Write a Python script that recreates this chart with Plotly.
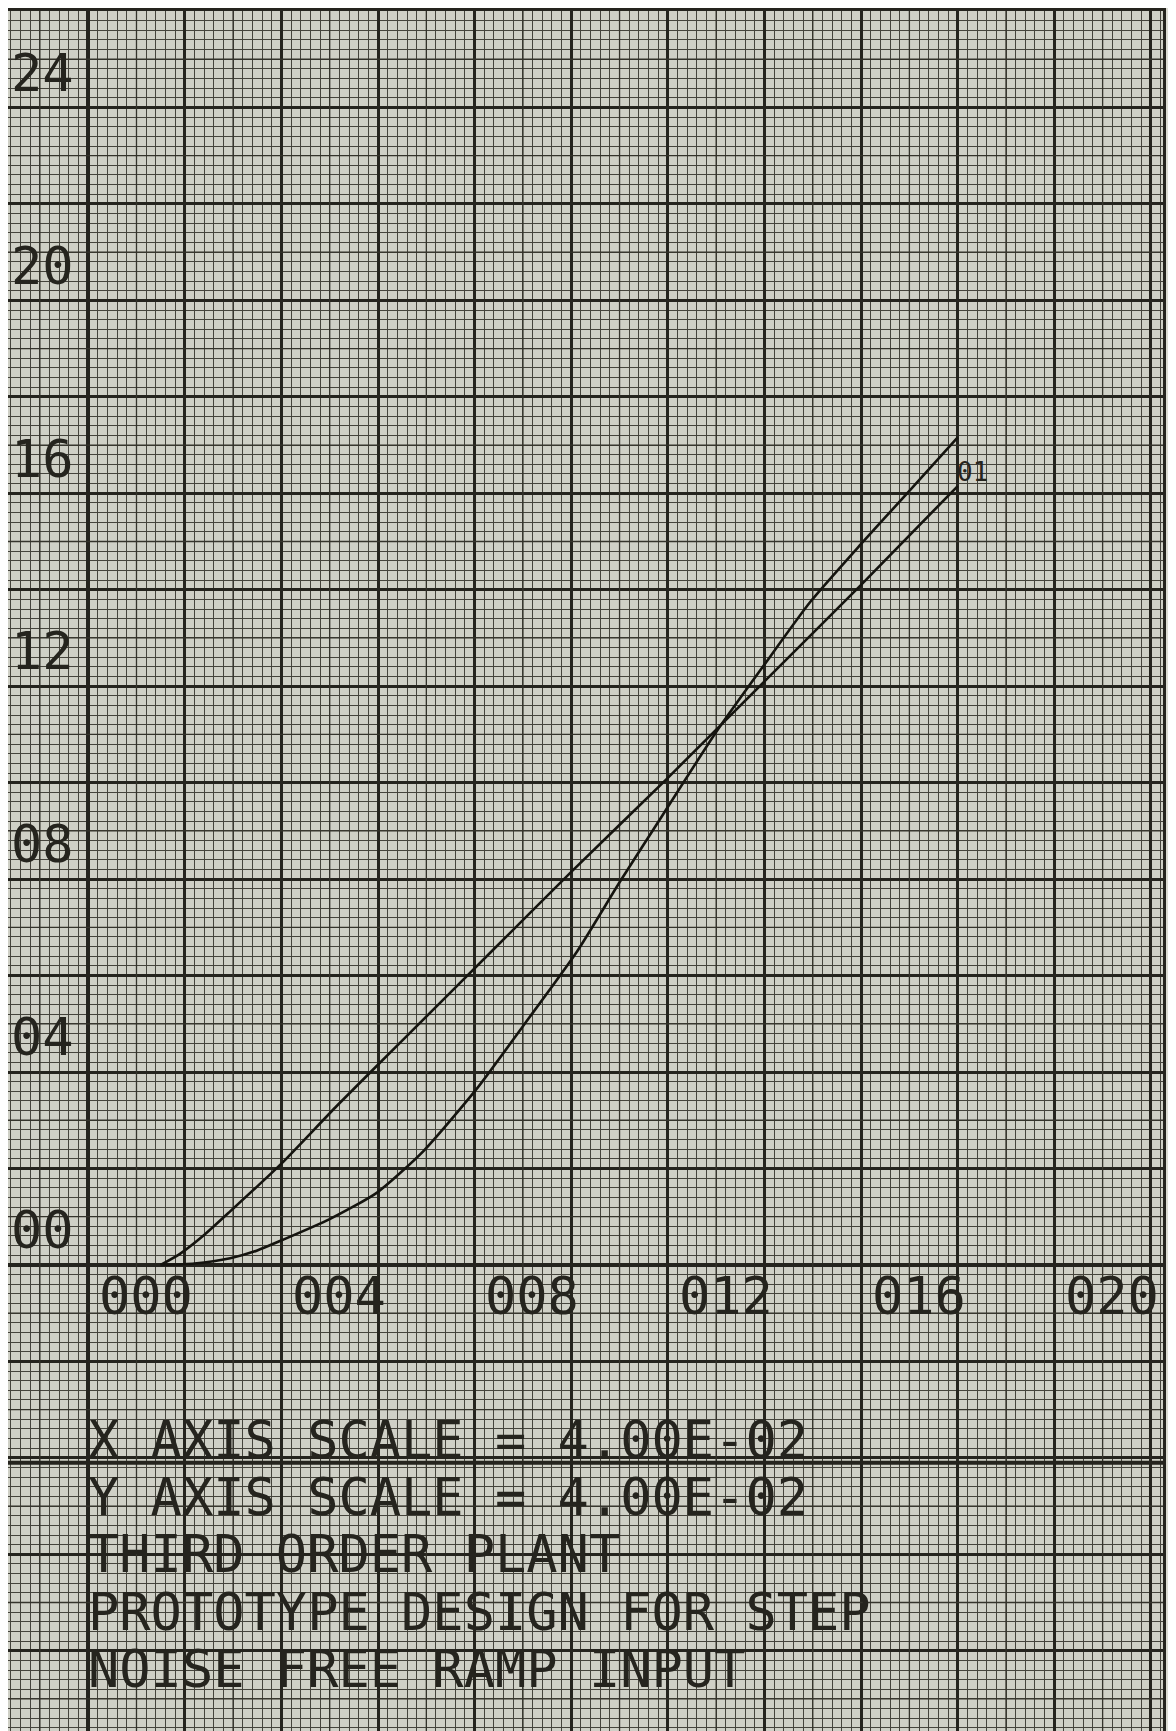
import numpy as np
import plotly.graph_objects as go

# ramp input (nearly straight line) and plant response (lagging curve)
ramp_x = [1.5, 1.9, 2.4, 2.95, 4.0, 5.15, 6.5, 8.4, 10.0, 12.0, 14.0, 16.0, 18.0]
ramp_y = [0.0, 0.23, 0.62, 1.12, 2.1, 3.3, 4.65, 6.55, 8.15, 10.1, 12.1, 14.1, 16.15]

resp_x = [1.5, 2.2, 2.94, 3.5, 3.98, 5.0, 5.98, 6.94, 8.05, 9.0, 10.12, 11.01,
          11.9, 13.0, 14.0, 14.95, 16.0, 17.0, 18.0]
resp_y = [0.0, 0.03, 0.14, 0.3, 0.5, 0.95, 1.5, 2.36, 3.66, 4.95, 6.5, 7.95,
          9.34, 11.05, 12.45, 13.75, 14.95, 16.05, 17.16]

curve_label = "01"

x_tick_vals = [0, 4, 8, 12, 16, 20]
x_tick_text = ["000", "004", "008", "012", "016", "020"]
y_tick_vals = [0, 4, 8, 12, 16, 20, 24]
y_tick_text = ["00", "04", "08", "12", "16", "20", "24"]

notes = [
    "X AXIS SCALE = 4.00E-02",
    "Y AXIS SCALE = 4.00E-02",
    "THIRD ORDER PLANT",
    "PROTOTYPE DESIGN FOR STEP",
    "NOISE FREE RAMP INPUT",
]

# page has an 8px body margin, ranges chosen so the sheet lines up with the scan
X_RANGE = [-1.66, 22.25]
Y_RANGE = [-9.83, 26.0]
INK = "#25241e"
PAPER = "#cfd0c6"
FONT = "DejaVu Sans Mono"

fig = go.Figure()

# medium-weight paper lines at odd units
gx, gy = [], []
for v in np.arange(-1, X_RANGE[1], 2):
    gx += [v, v, None]
    gy += [Y_RANGE[0], Y_RANGE[1], None]
for v in np.arange(-9, Y_RANGE[1], 2):
    gx += [X_RANGE[0], X_RANGE[1], None]
    gy += [v, v, None]
fig.add_trace(go.Scatter(x=gx, y=gy, mode="lines", line=dict(color="#34332b", width=1.3),
                         hoverinfo="skip", showlegend=False))

fig.add_trace(go.Scatter(x=ramp_x, y=ramp_y, mode="lines",
                         line=dict(color="#15140f", width=2.6, shape="spline", smoothing=0.6),
                         showlegend=False))
fig.add_trace(go.Scatter(x=resp_x, y=resp_y, mode="lines",
                         line=dict(color="#15140f", width=2.6, shape="spline", smoothing=0.6),
                         showlegend=False))

annotations = []
for v, t in zip(x_tick_vals, x_tick_text):
    annotations.append(dict(x=v + 0.18, y=-0.64, text=t, showarrow=False, xanchor="left", yanchor="middle",
                            font=dict(family=FONT, size=52, color=INK)))
for v, t in zip(y_tick_vals, y_tick_text):
    annotations.append(dict(x=X_RANGE[0] + 0.02, y=v + 0.72, text=t, showarrow=False, xanchor="left",
                            yanchor="middle", font=dict(family=FONT, size=52, color=INK)))
for i, t in enumerate(notes):
    annotations.append(dict(x=-0.05, y=-3.62 - 1.19 * i, text=t, showarrow=False, xanchor="left",
                            yanchor="middle", font=dict(family=FONT, size=52, color=INK)))
annotations.append(dict(x=ramp_x[-1] - 0.05, y=ramp_y[-1] + 0.3, text=curve_label, showarrow=False,
                        xanchor="left", yanchor="middle", font=dict(family=FONT, size=26, color=INK)))

axis_common = dict(
    showgrid=True, gridcolor=INK, gridwidth=2.6, dtick=2, tick0=0,
    minor=dict(dtick=0.2, tick0=0, showgrid=True, gridcolor="#45443c", gridwidth=1),
    zeroline=True, zerolinecolor=INK, zerolinewidth=3.5,
    showline=True, mirror=True, linecolor=INK, linewidth=3,
    showticklabels=False, ticks="",
)

fig.update_layout(
    width=1176, height=1731,
    margin=dict(l=0, r=21, t=0, b=0),
    paper_bgcolor="#dcdcd3",
    plot_bgcolor=PAPER,
    xaxis=dict(range=X_RANGE, **axis_common),
    yaxis=dict(range=Y_RANGE, **axis_common),
    annotations=annotations,
    shapes=[dict(type="line", xref="paper", x0=0, x1=1, yref="y", y0=-4.1, y1=-4.1,
                 line=dict(color=INK, width=4))],
)

fig.write_html("out.html")
